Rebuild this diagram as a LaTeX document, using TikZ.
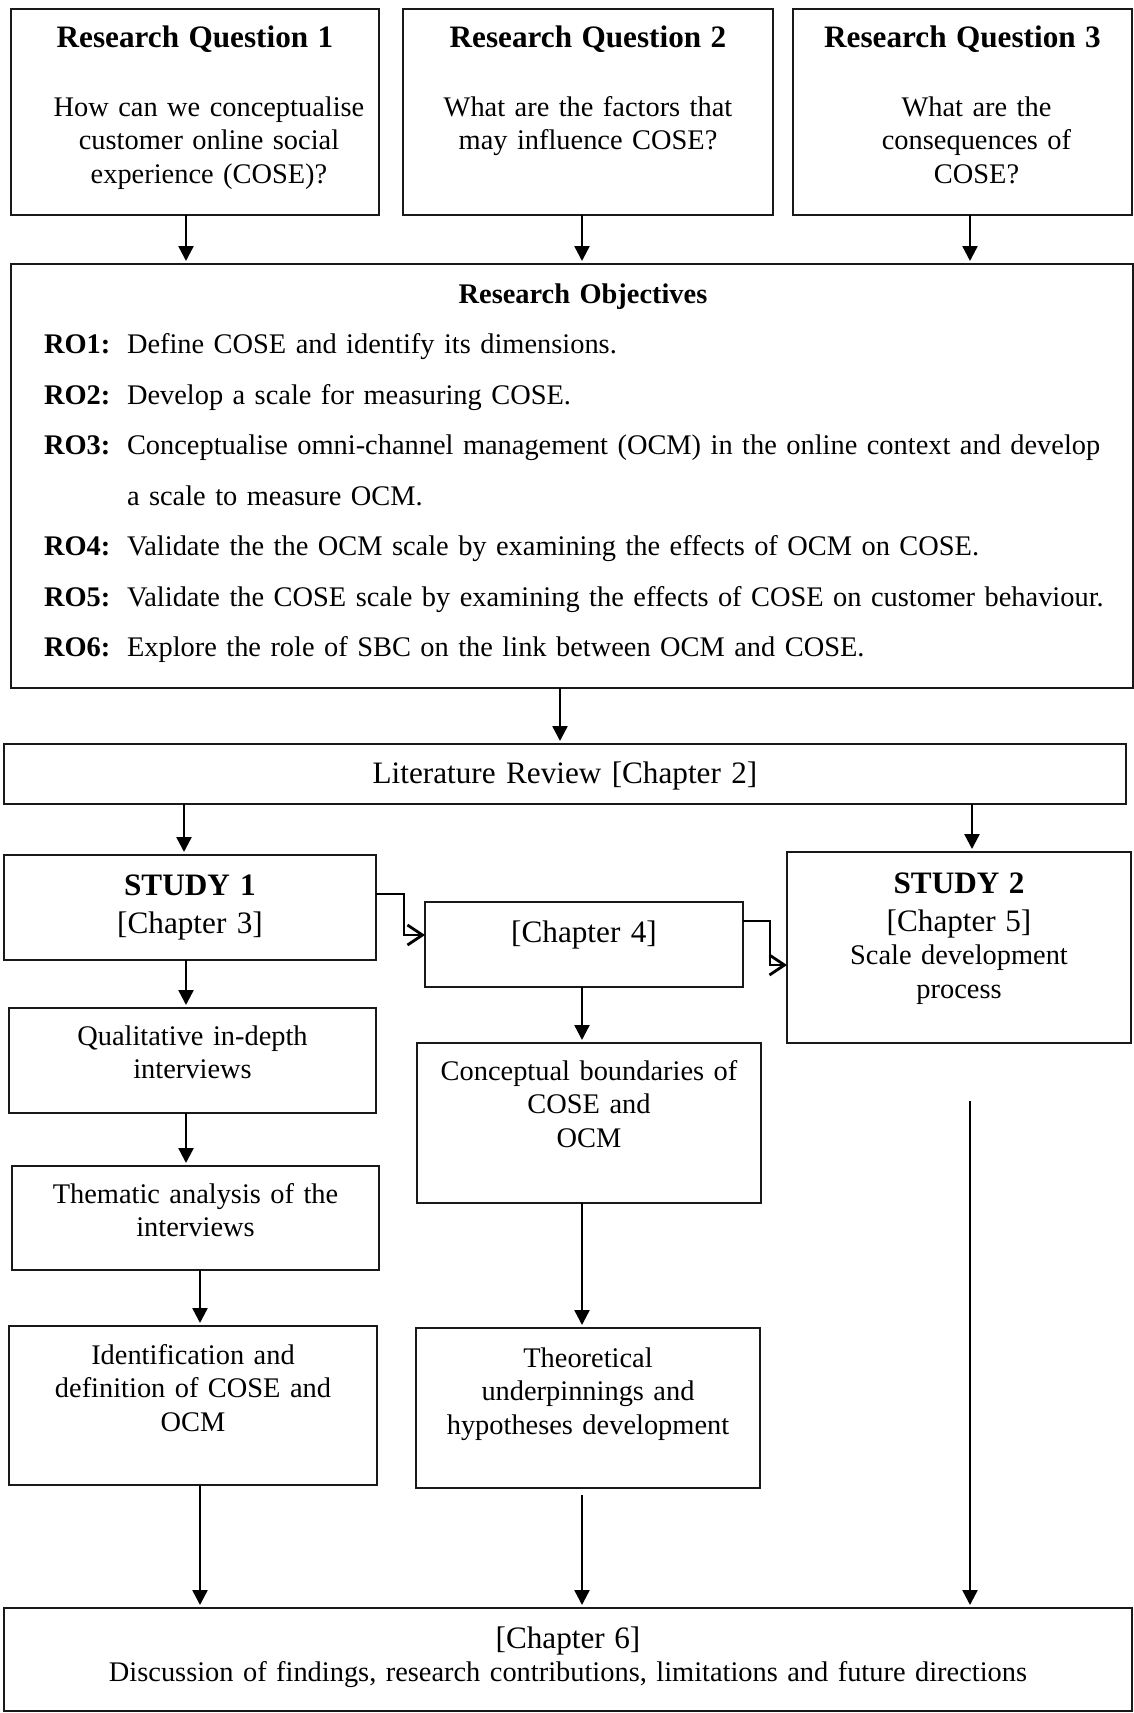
\documentclass[tikz,border=0pt]{standalone}
\usepackage{fontspec}
\setmainfont{Liberation Serif}
\usetikzlibrary{arrows.meta}
\newcommand{\titlesize}{\fontsize{31.2}{36.8}\selectfont}
\newcommand{\bodysize}{\fontsize{28.4}{33.7}\selectfont}
\newcommand{\rolabel}[1]{\makebox[83pt][l]{\textbf{RO#1:}}}
\newcommand{\indentline}{\hspace*{28pt}}

\begin{document}
\begin{tikzpicture}[x=1pt,y=-1pt,
	box/.style={draw=black!90, line width=1.8pt, inner sep=0pt, outer sep=0pt, align=center, anchor=north west, font=\bodysize},
	arr/.style={-{Triangle[length=15pt,width=15pt]}, line width=2.4pt, shorten >=3pt},
	elbow/.style={-{Straight Barb[length=15pt,width=20pt]}, line width=2.8pt}]
	\useasboundingbox (0,0) rectangle (1134,1713);
	% research questions
	\node[box, text width=368pt, text height=38pt, text depth=168pt] (rq1) at (11,9) {{\titlesize\bfseries Research Question 1}\\[35.3pt] \indentline How can we conceptualise\\ \indentline customer online social\\ \indentline experience (COSE)?};
	\node[box, text width=370pt, text height=38pt, text depth=168pt] (rq2) at (403,9) {{\titlesize\bfseries Research Question 2}\\[35.3pt] What are the factors that\\ may influence COSE?};
	\node[box, text width=339pt, text height=38pt, text depth=168pt] (rq3) at (793,9) {{\titlesize\bfseries Research Question 3}\\[35.3pt] \indentline What are the\\ \indentline consequences of\\ \indentline COSE?};
	% objectives
	\node[box, align=left, inner xsep=33pt, text width=1056pt, text height=39pt, text depth=385pt, font={\fontsize{28.4}{50.5}\selectfont}] (ro) at (11,264) {\makebox[\linewidth]{\hspace{22pt}\textbf{Research Objectives}}\\
		\rolabel{1}Define COSE and identify its dimensions.\\
		\rolabel{2}Develop a scale for measuring COSE.\\
		\mbox{\rolabel{3}Conceptualise omni-channel management (OCM) in the online context and develop}\\
		\hspace*{83pt}a scale to measure OCM.\\
		\rolabel{4}Validate the the OCM scale by examining the effects of OCM on COSE.\\
		\mbox{\rolabel{5}Validate the COSE scale by examining the effects of COSE on customer behaviour.}\\
		\rolabel{6}Explore the role of SBC on the link between OCM and COSE.};
	\node[box, font=\titlesize, text width=1122pt, text height=39pt, text depth=21pt] (lit) at (4,744) {Literature Review [Chapter 2]};
	% studies
	\node[box, font=\titlesize, text width=372pt, text height=40pt, text depth=65pt] (s1) at (4,855) {\textbf{STUDY 1}\\[1.2pt] [Chapter 3]};
	\node[box, font=\titlesize, text width=318pt, text height=40pt, text depth=45pt] (c4) at (425,902) {[Chapter 4]};
	\node[box, text width=344pt, text height=41pt, text depth=150pt] (s2) at (787,852) {{\titlesize\bfseries STUDY 2}\\[4.3pt] {\titlesize [Chapter 5]}\\ Scale development\\ process};
	\node[box, text width=367pt, text height=37pt, text depth=68pt] (qual) at (9,1008) {Qualitative in-depth\\ interviews};
	\node[box, text width=344pt, text height=37pt, text depth=123pt] (concept) at (417,1043) {Conceptual boundaries of\\ COSE and\\ OCM};
	\node[box, text width=367pt, text height=37pt, text depth=67pt] (them) at (12,1166) {Thematic analysis of the\\ interviews};
	\node[box, text width=368pt, text height=38pt, text depth=121pt] (ident) at (9,1326) {Identification and\\ definition of COSE and\\ OCM};
	\node[box, text width=344pt, text height=39pt, text depth=121pt] (theo) at (416,1328) {Theoretical\\ underpinnings and\\ hypotheses development};
	\node[box, text width=1128pt, text height=40pt, text depth=63pt] (ch6) at (4,1608) {{\titlesize [Chapter 6]}\\ Discussion of findings, research contributions, limitations and future directions};
	% connectors
	\foreach \q/\dx in {rq1/-9,rq2/-6,rq3/7.5}
		\draw[arr] ([xshift=\dx pt]\q.south) -- ([xshift=\dx pt]\q.south |- ro.north);
	\draw[arr] ([xshift=-12pt]ro.south) -- ([xshift=-12pt]ro.south |- lit.north);
	\draw[arr] ([xshift=-6pt]s1.north |- lit.south) -- ([xshift=-6pt]s1.north);
	\draw[arr] ([xshift=13pt]s2.north |- lit.south) -- ([xshift=13pt]s2.north);
	\draw[elbow] ([yshift=13.5pt]s1.east) -- ++(28,0) |- ([yshift=9.5pt]c4.west);
	\draw[elbow] ([yshift=23.5pt]c4.east) -- ++(27,0) |- ([yshift=-17.5pt]s2.west);
	\draw[arr] ([xshift=-4pt]s1.south) -- ([xshift=-4pt]s1.south |- qual.north);
	\draw[arr] ([xshift=-6.5pt]qual.south) -- ([xshift=-6.5pt]qual.south |- them.north);
	\draw[arr] ([xshift=4.5pt]them.south) -- ([xshift=4.5pt]them.south |- ident.north);
	\draw[arr] ([xshift=7pt]ident.south) -- ([xshift=7pt]ident.south |- ch6.north);
	\draw[arr] ([xshift=-2pt]c4.south) -- ([xshift=-2pt]c4.south |- concept.north);
	\draw[arr] ([xshift=-7pt]concept.south) -- ([xshift=-7pt]concept.south |- theo.north);
	\draw[arr, shorten <=7pt] ([xshift=-6pt]theo.south) -- ([xshift=-6pt]theo.south |- ch6.north); % gap under box
	\draw[arr, shorten <=58pt] ([xshift=11pt]s2.south) -- ([xshift=11pt]s2.south |- ch6.north); % long line from study 2
\end{tikzpicture}
\end{document}
